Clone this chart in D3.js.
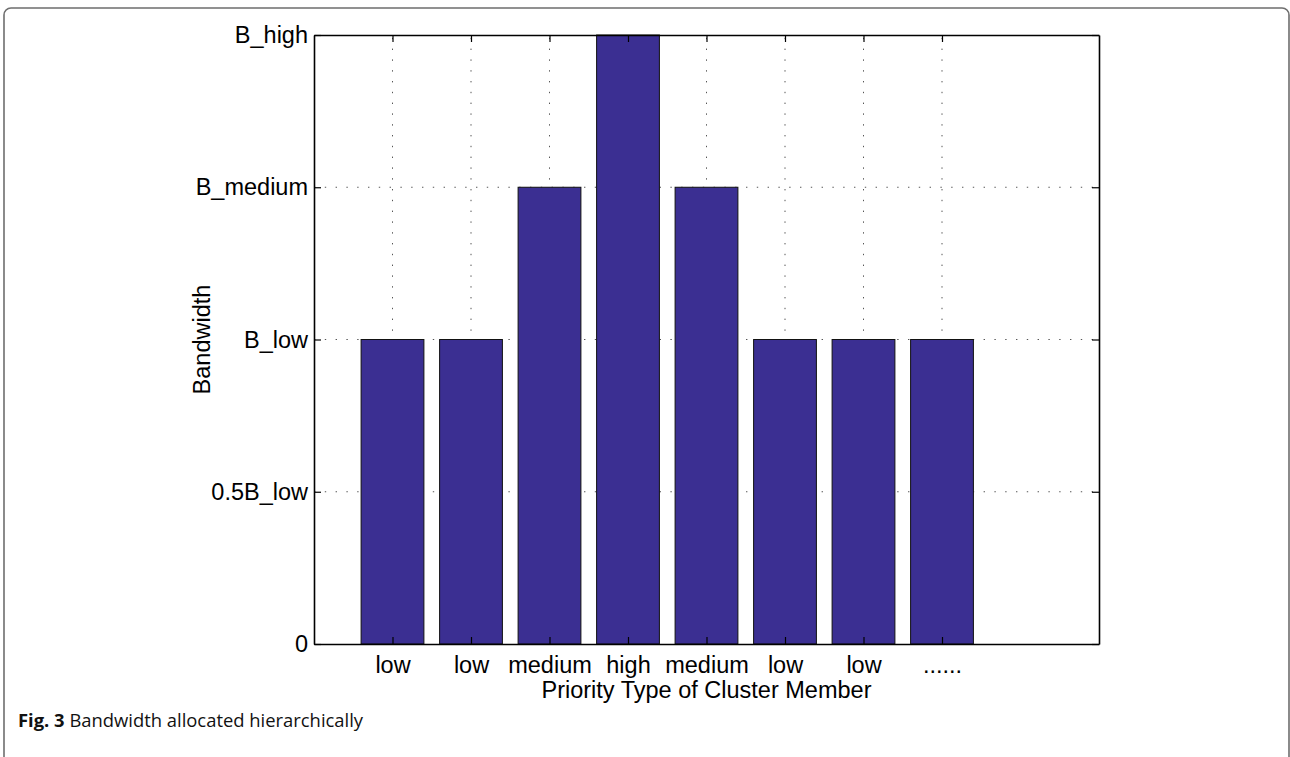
<!DOCTYPE html>
<html>
<head>
<meta charset="utf-8">
<script src="https://cdn.jsdelivr.net/npm/d3@7"></script>
<style>
  html, body { margin: 0; padding: 0; background: #fff; }
  svg { display: block; }
</style>
</head>
<body>
<svg id="chart" width="1290" height="757"></svg>
<script>
// ---- Data ----
const categories = ["low", "low", "medium", "high", "medium", "low", "low", "......"];
const positions = [1, 2, 3, 4, 5, 6, 7, 8];
const values = [2, 2, 3, 4, 3, 2, 2, 2];
const yTickValues = [0, 1, 2, 3, 4];
const yTickLabels = ["0", "0.5B_low", "B_low", "B_medium", "B_high"];
const xLabel = "Priority Type of Cluster Member";
const yLabel = "Bandwidth";
const captionBold = "Fig. 3";
const captionText = " Bandwidth allocated hierarchically";

(function () {
// ---- Layout ----
const svg = d3.select("#chart");
const pL = 314, pR = 1099, pT = 35, pB = 644;
const font = "'Liberation Sans', Arial, sans-serif";
const fs = 23.5;

// outer figure frame
svg.append("rect")
  .attr("x", 4).attr("y", 8).attr("width", 1285).attr("height", 820)
  .attr("rx", 7).attr("ry", 7)
  .attr("fill", "none").attr("stroke", "#6e6e6e").attr("stroke-width", 1.6);

const x = d3.scaleLinear().domain([0, 10]).range([pL, pR]);
const y = d3.scaleLinear().domain([0, 4]).range([pB, pT]);

const g = svg.append("g");

// grid
const dash = "1.4,9.4";
g.append("g").selectAll("line").data(positions).join("line")
  .attr("x1", d => x(d)).attr("x2", d => x(d))
  .attr("y1", pB).attr("y2", pT)
  .attr("stroke", "#555").attr("stroke-width", 1).attr("stroke-dasharray", dash);
g.append("g").selectAll("line").data(yTickValues.filter(v => v > 0 && v < 4)).join("line")
  .attr("x1", pL).attr("x2", pR)
  .attr("y1", d => y(d)).attr("y2", d => y(d))
  .attr("stroke", "#555").attr("stroke-width", 1).attr("stroke-dasharray", dash);

// bars
const bw = x(0.8) - x(0);
g.append("g").selectAll("rect").data(values).join("rect")
  .attr("x", (d, i) => x(positions[i]) - bw / 2)
  .attr("y", d => y(d))
  .attr("width", bw)
  .attr("height", d => y(0) - y(d))
  .attr("fill", "#3b2f92")
  .attr("stroke", "#111").attr("stroke-width", 1);

// axes (inward ticks, box)
const tickLen = 7;
const yAxisL = d3.axisLeft(y).tickValues(yTickValues).tickFormat((d, i) => yTickLabels[i]).tickSizeInner(-tickLen).tickSizeOuter(0).tickPadding(6);
const yAxisR = d3.axisRight(y).tickValues(yTickValues).tickFormat("").tickSizeInner(-tickLen).tickSizeOuter(0);
const xAxisB = d3.axisBottom(x).tickValues(positions).tickFormat((d, i) => categories[i]).tickSizeInner(-tickLen).tickSizeOuter(0).tickPadding(12);
const xAxisT = d3.axisTop(x).tickValues(positions).tickFormat("").tickSizeInner(-tickLen).tickSizeOuter(0);

function style(sel) {
  sel.selectAll("path").attr("stroke", "#000").attr("stroke-width", 1.6);
  sel.selectAll("line").attr("stroke", "#000").attr("stroke-width", 1.2);
  sel.selectAll("text").attr("font-family", font).attr("font-size", fs).attr("fill", "#000");
  sel.attr("font-family", null).attr("font-size", null);
}
svg.append("g").attr("transform", `translate(${pL},0)`).call(yAxisL).call(style);
svg.append("g").attr("transform", `translate(${pR},0)`).call(yAxisR).call(style);
svg.append("g").attr("transform", `translate(0,${pB})`).call(xAxisB).call(style);
svg.append("g").attr("transform", `translate(0,${pT})`).call(xAxisT).call(style);

// axis labels
svg.append("text")
  .attr("x", (pL + pR) / 2).attr("y", 698)
  .attr("text-anchor", "middle")
  .attr("font-family", font).attr("font-size", fs)
  .text(xLabel);
svg.append("text")
  .attr("transform", `translate(210,${(pT + pB) / 2}) rotate(-90)`)
  .attr("text-anchor", "middle")
  .attr("font-family", font).attr("font-size", fs)
  .text(yLabel);

// caption
const cap = svg.append("text")
  .attr("x", 18).attr("y", 727)
  .attr("font-family", "'Open Sans', 'Noto Sans', sans-serif")
  .attr("font-size", 18.4).attr("fill", "#111");
cap.append("tspan").attr("font-weight", "bold").text(captionBold);
cap.append("tspan").text(captionText);
})();
</script>
</body>
</html>
